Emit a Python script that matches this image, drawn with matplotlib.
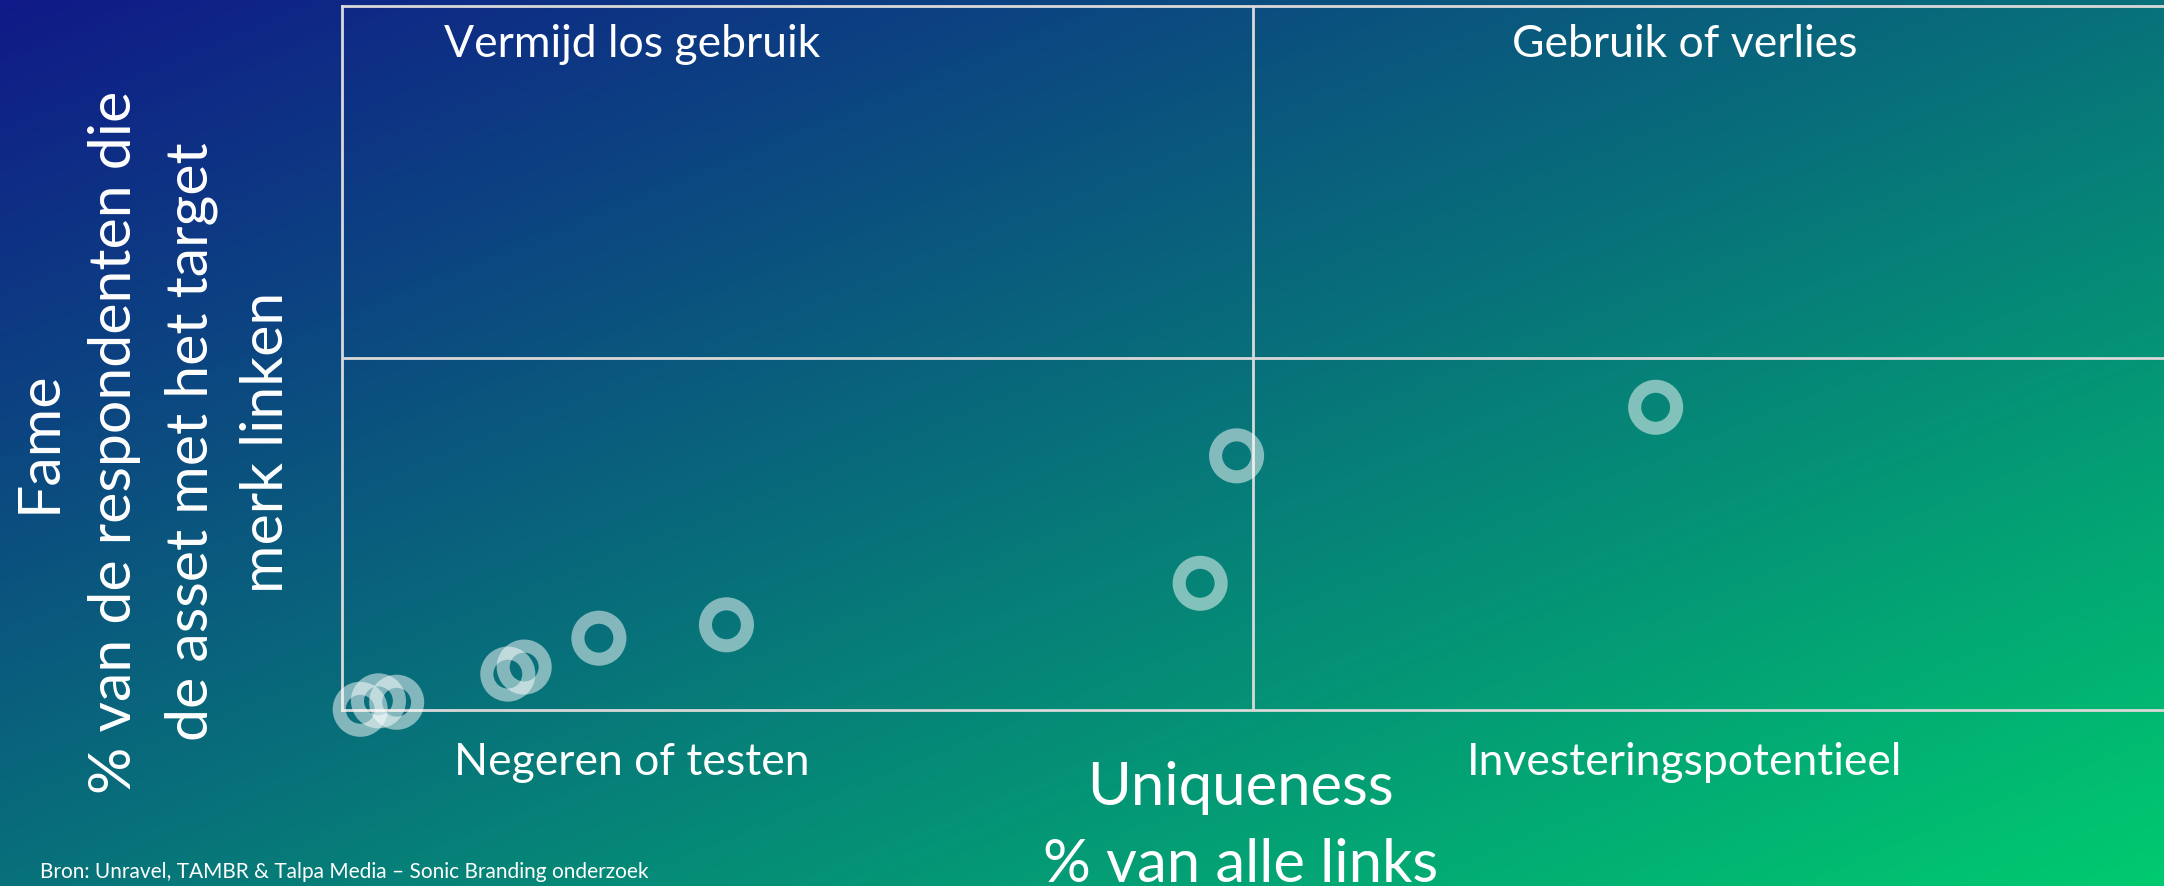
import numpy as np
import matplotlib.pyplot as plt
from matplotlib.colors import LinearSegmentedColormap

# data (uniqueness % , fame %), axes run 0-100 with quadrants split at 50
uniqueness = [1.0, 2.0, 3.0, 9.1, 10.0, 14.1, 21.1, 47.1, 49.1, 72.1]
fame = [0.1, 1.3, 1.1, 5.1, 6.1, 10.2, 12.1, 18.0, 36.1, 43.0]

quadrants = ["Vermijd los gebruik", "Gebruik of verlies",
             "Negeren of testen", "Investeringspotentieel"]
xlabel_lines = ["Uniqueness", "% van alle links"]
ylabel_lines = ["Fame", "% van de respondenten die",
                "de asset met het target", "merk linken"]
source = "Bron: Unravel, TAMBR & Talpa Media \u2013 Sonic Branding onderzoek"

plt.rcParams['font.family'] = ['Lato', 'DejaVu Sans']

W, H = 2164, 887
fig = plt.figure(figsize=(W / 100, H / 100), dpi=100)

# diagonal gradient background
bg = fig.add_axes([0, 0, 1, 1], zorder=0)
gx, gy = np.meshgrid(np.linspace(0, 1, 400), np.linspace(0, 1, 200))
t = (gx + gy) / 2
cmap = LinearSegmentedColormap.from_list(
    "bg", [(0, "#101a88"), (0.5, "#08717a"), (1, "#00ca70")])
bg.imshow(t, cmap=cmap, aspect="auto", extent=[0, 1, 0, 1], origin="upper")
bg.axis("off")

ax = fig.add_axes([342 / W, 1 - 711 / H, 1 - 342 / W, 704 / H], zorder=1)
ax.set_facecolor("none")
ax.set_xlim(0, 100)
ax.set_ylim(0, 100)
ax.set_xticks([])
ax.set_yticks([])
for side in ["top", "left", "bottom"]:
    ax.spines[side].set_color("#d9d9d9")
    ax.spines[side].set_linewidth(2)
ax.spines["right"].set_visible(False)
ax.axvline(50, color="#d9d9d9", lw=2)
ax.axhline(50, color="#d9d9d9", lw=2)

ax.scatter(uniqueness, fame, s=914, facecolors="none",
           edgecolors=(1, 1, 1, 0.5), linewidths=9.4, clip_on=False, zorder=3)

txt = dict(color="white", fontsize=32, ha="center", va="baseline",
           transform=ax.transAxes)
ax.text(0.159, 0.929, quadrants[0], **txt)
ax.text(0.737, 0.929, quadrants[1], **txt)
ax.text(0.159, -0.091, quadrants[2], **txt)
ax.text(0.737, -0.091, quadrants[3], **txt)

ax.text(0.4934, -0.1335, xlabel_lines[0], color="white", fontsize=43,
        ha="center", va="baseline", transform=ax.transAxes)
ax.text(0.4934, -0.2429, xlabel_lines[1], color="white", fontsize=43,
        ha="center", va="baseline", transform=ax.transAxes)

fig.text(153 / W, 1 - 442 / H, "\n".join(ylabel_lines), color="white",
         fontsize=42.5, rotation=90, ha="center", va="center",
         multialignment="center", linespacing=1.53)

fig.text(40 / W, 1 - 878 / H, source, color="white", fontsize=15,
         ha="left", va="baseline")

fig.savefig("out.png", dpi=100)
